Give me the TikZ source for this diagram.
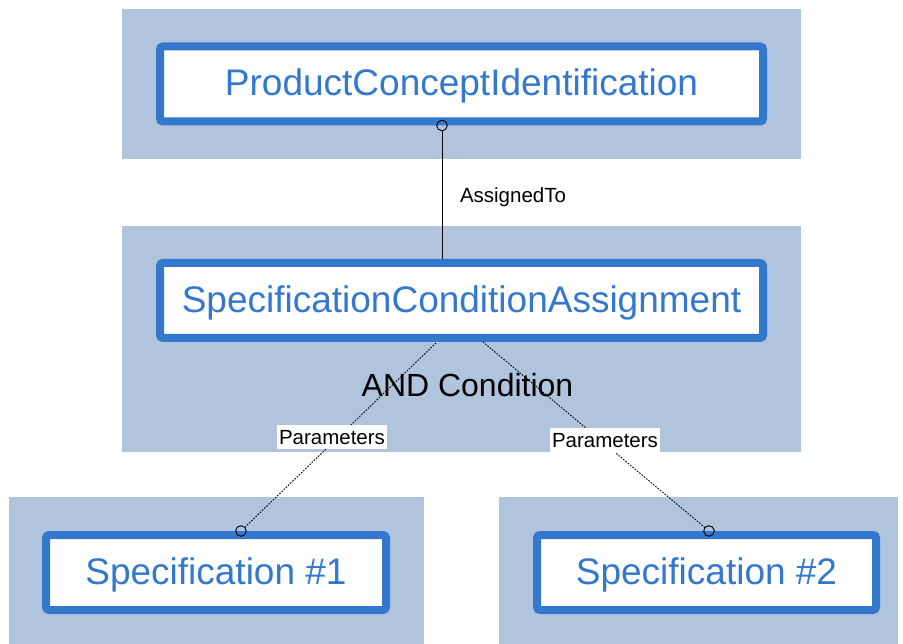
\documentclass[tikz,border=0pt]{standalone}
\usepackage{fontspec}
\setmainfont{Liberation Sans}
\usetikzlibrary{arrows.meta}
\definecolor{panelblue}{RGB}{176,196,222}
\definecolor{boxblue}{RGB}{52,120,205}
\tikzset{
  panel/.style={fill=panelblue, draw=none},
  classbox/.style={draw=boxblue, line width=8pt, fill=white, rounded corners=3pt,
    text=boxblue, font=\fontsize{37}{40}\selectfont, minimum height=75pt, inner sep=0pt,
    text height=27pt, text depth=3pt},
  assoc/.style={draw=black, line width=0.9pt, {Circle[open,length=11.5pt,width=11.5pt]}-, shorten <=-5.75pt},
  dotassoc/.style={assoc, dash pattern=on 1.6pt off 1.4pt},
  lbl/.style={font=\fontsize{20.5}{22}\selectfont, text=black, inner sep=0pt},
  wlbl/.style={lbl, fill=white, inner xsep=2pt, minimum height=24pt}
}
\begin{document}
\begin{tikzpicture}[x=1pt,y=-1pt]
\useasboundingbox (0,0) rectangle (903,644);
% panels
\path[panel] (122,9) rectangle (801,159);
\path[panel] (122,226) rectangle (801,452);
\path[panel] (9,497) rectangle (424,644);
\path[panel] (499,497) rectangle (898,644);
% boxes
\node[classbox, minimum width=603pt] (top) at (461.5,84) {ProductConceptIdentification};
\node[classbox, minimum width=603pt] (mid) at (461.5,300.5) {SpecificationConditionAssignment};
\node[classbox, minimum width=340pt] (spa) at (216,572.5) {Specification \#1};
\node[classbox, minimum width=339pt] (spb) at (706.5,572.5) {Specification \#2};
% AND Condition
\node[font=\fontsize{32}{34}\selectfont, anchor=base, inner sep=0pt] (andc) at (467.5,397) {AND Condition};
% connectors
\coordinate (tA) at ([xshift=-19.5pt]top.south);
\coordinate (mA) at ([xshift=-19.5pt]mid.north);
\coordinate (mL) at ([xshift=-24.5pt]mid.south);
\coordinate (mR) at ([xshift=21.5pt]mid.south);
\coordinate (sA) at ([xshift=25pt]spa.north);
\coordinate (sB) at ([xshift=2.5pt]spb.north);
\draw[assoc] (tA) -- (mA);
\draw[dotassoc] (sA) -- (mL);
\draw[dotassoc] (sB) -- (mR);
% labels
\node[lbl] (lblAssigned) at (513,197) {AssignedTo};
\node[wlbl] (lblParamA) at (332,437.5) {Parameters};
\node[wlbl] (lblParamB) at (605,440.5) {Parameters};
\end{tikzpicture}
\end{document}
